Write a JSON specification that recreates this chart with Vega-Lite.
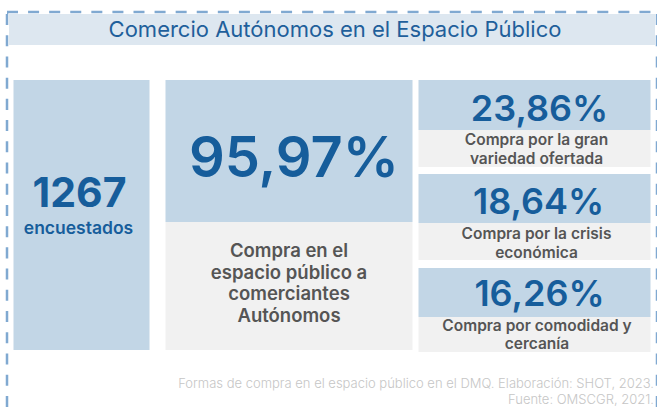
{
  "$schema": "https://vega.github.io/schema/vega-lite/v6.json",
  "background": "#ffffff",
  "padding": {"left": 5, "top": 10, "right": 0, "bottom": 0},
  "config": {
    "view": {"stroke": null},
    "text": {"font": "Inter", "clip": true},
    "locale": {"number": {"decimal": ",", "thousands": ".", "grouping": [3], "currency": ["", " €"]}}
  },
  "datasets": {
    "stats": [
      {"id": "total", "valor": 1267, "etiqueta": "encuestados"},
      {"id": "espacio", "valor": 0.9597, "etiqueta": ["Compra en el", "espacio público a", "comerciantes", "Autónomos"]},
      {"id": "variedad", "valor": 0.2386, "etiqueta": ["Compra por la gran", "variedad ofertada"]},
      {"id": "crisis", "valor": 0.1864, "etiqueta": ["Compra por la crisis", "económica"]},
      {"id": "comodidad", "valor": 0.1626, "etiqueta": ["Compra por comodidad y", "cercanía"]}
    ],
    "notas": [
      {"id": "titulo", "texto": "Comercio Autónomos en el Espacio Público"},
      {"id": "fuente", "texto": ["Formas de compra en el espacio público en el DMQ. Elaboración: SHOT, 2023.", "Fuente: OMSCGR, 2021."]}
    ]
  },
  "spacing": -2.5,
  "vconcat": [
    {
      "width": 648.5, "height": 0.01,
      "view": {"stroke": "#80a9d1", "strokeWidth": 2.5, "strokeDash": [11, 10.082]},
      "data": {"values": []},
      "mark": "point"
    },
    {
      "spacing": 0,
      "hconcat": [
        {
          "width": 0.01, "height": 398,
          "view": {"stroke": "#80a9d1", "strokeWidth": 2.5, "strokeDash": [11, 10.216]},
          "data": {"values": []},
          "mark": "point"
        },
        {
          "spacing": 35,
          "center": true,
          "vconcat": [
            {
              "width": 646, "height": 31,
              "view": {"fill": "#dde7f0", "stroke": null},
              "data": {"name": "notas"},
              "transform": [{"filter": "datum.id == 'titulo'"}],
              "mark": {"type": "text", "fontSize": 22, "fontWeight": 400, "color": "#1f5f9b", "dx": 3, "dy": 0},
              "encoding": {
                "x": {"field": "id", "type": "nominal", "axis": null},
                "y": {"field": "id", "type": "nominal", "axis": null},
                "text": {"field": "texto", "type": "nominal"}
              }
            },
            {
              "spacing": 25,
              "center": true,
              "vconcat": [
                {
                  "spacing": 16,
                  "hconcat": [
                    {
                      "width": 136, "height": 270,
                      "view": {"fill": "#c2d6e6", "stroke": null},
                      "data": {"name": "stats"},
                      "transform": [{"filter": "datum.id == 'total'"}],
                      "encoding": {
                        "x": {"field": "id", "type": "nominal", "axis": null},
                        "y": {"field": "id", "type": "nominal", "axis": null}
                      },
                      "layer": [
                        {
                          "mark": {"type": "text", "fontSize": 41, "fontWeight": 700, "color": "#165d9b", "dx": -2, "dy": -20},
                          "encoding": {"text": {"field": "valor", "type": "quantitative", "format": "d"}}
                        },
                        {
                          "mark": {"type": "text", "fontSize": 17.5, "fontWeight": 600, "color": "#165d9b", "dx": -3, "dy": 13.5},
                          "encoding": {"text": {"field": "etiqueta", "type": "nominal"}}
                        }
                      ]
                    },
                    {
                      "spacing": 6,
                      "hconcat": [
                        {
                          "spacing": 0,
                          "vconcat": [
                            {
                              "width": 247, "height": 142,
                              "view": {"fill": "#c2d6e6", "stroke": null},
                              "data": {"name": "stats"},
                              "transform": [{"filter": "datum.id == 'espacio'"}],
                              "mark": {"type": "text", "fontSize": 56, "fontWeight": 600, "color": "#165d9b", "dx": 5, "dy": 8.5},
                              "encoding": {
                                "x": {"field": "id", "type": "nominal", "axis": null},
                                "y": {"field": "id", "type": "nominal", "axis": null},
                                "text": {"field": "valor", "type": "quantitative", "format": ".2%"}
                              }
                            },
                            {
                              "width": 247, "height": 128,
                              "view": {"fill": "#f1f1f1", "stroke": null},
                              "data": {"name": "stats"},
                              "transform": [{"filter": "datum.id == 'espacio'"}],
                              "mark": {"type": "text", "fontSize": 18.5, "fontWeight": 600, "color": "#555555", "lineHeight": 21.7, "dy": -35},
                              "encoding": {
                                "x": {"field": "id", "type": "nominal", "axis": null},
                                "y": {"field": "id", "type": "nominal", "axis": null},
                                "text": {"field": "etiqueta", "type": "nominal"}
                              }
                            }
                          ]
                        },
                        {
                          "spacing": 7,
                          "vconcat": [
                            {
                              "spacing": 0,
                              "vconcat": [
                                {
                                  "width": 232, "height": 50,
                                  "view": {"fill": "#c2d6e6", "stroke": null},
                                  "data": {"name": "stats"},
                                  "transform": [{"filter": "datum.id == 'variedad'"}],
                                  "mark": {"type": "text", "fontSize": 36, "fontWeight": 600, "color": "#165d9b", "dx": 5, "dy": 5},
                                  "encoding": {
                                    "x": {"field": "id", "type": "nominal", "axis": null},
                                    "y": {"field": "id", "type": "nominal", "axis": null},
                                    "text": {"field": "valor", "type": "quantitative", "format": ".2%"}
                                  }
                                },
                                {
                                  "width": 232, "height": 37,
                                  "view": {"fill": "#f1f1f1", "stroke": null},
                                  "data": {"name": "stats"},
                                  "transform": [{"filter": "datum.id == 'variedad'"}],
                                  "mark": {"type": "text", "fontSize": 15.5, "fontWeight": 600, "color": "#555555", "lineHeight": 19, "dx": 2, "dy": -9},
                                  "encoding": {
                                    "x": {"field": "id", "type": "nominal", "axis": null},
                                    "y": {"field": "id", "type": "nominal", "axis": null},
                                    "text": {"field": "etiqueta", "type": "nominal"}
                                  }
                                }
                              ]
                            },
                            {
                              "spacing": 0,
                              "vconcat": [
                                {
                                  "width": 232, "height": 49,
                                  "view": {"fill": "#c2d6e6", "stroke": null},
                                  "data": {"name": "stats"},
                                  "transform": [{"filter": "datum.id == 'crisis'"}],
                                  "mark": {"type": "text", "fontSize": 36, "fontWeight": 600, "color": "#165d9b", "dx": 4, "dy": 4},
                                  "encoding": {
                                    "x": {"field": "id", "type": "nominal", "axis": null},
                                    "y": {"field": "id", "type": "nominal", "axis": null},
                                    "text": {"field": "valor", "type": "quantitative", "format": ".2%"}
                                  }
                                },
                                {
                                  "width": 232, "height": 37,
                                  "view": {"fill": "#f1f1f1", "stroke": null},
                                  "data": {"name": "stats"},
                                  "transform": [{"filter": "datum.id == 'crisis'"}],
                                  "mark": {"type": "text", "fontSize": 15.5, "fontWeight": 600, "color": "#555555", "lineHeight": 19, "dx": 2, "dy": -8},
                                  "encoding": {
                                    "x": {"field": "id", "type": "nominal", "axis": null},
                                    "y": {"field": "id", "type": "nominal", "axis": null},
                                    "text": {"field": "etiqueta", "type": "nominal"}
                                  }
                                }
                              ]
                            },
                            {
                              "spacing": 0,
                              "vconcat": [
                                {
                                  "width": 232, "height": 49,
                                  "view": {"fill": "#c2d6e6", "stroke": null},
                                  "data": {"name": "stats"},
                                  "transform": [{"filter": "datum.id == 'comodidad'"}],
                                  "mark": {"type": "text", "fontSize": 36, "fontWeight": 600, "color": "#165d9b", "dx": 5, "dy": 2.5},
                                  "encoding": {
                                    "x": {"field": "id", "type": "nominal", "axis": null},
                                    "y": {"field": "id", "type": "nominal", "axis": null},
                                    "text": {"field": "valor", "type": "quantitative", "format": ".2%"}
                                  }
                                },
                                {
                                  "width": 232, "height": 35,
                                  "view": {"fill": "#f1f1f1", "stroke": null},
                                  "data": {"name": "stats"},
                                  "transform": [{"filter": "datum.id == 'comodidad'"}],
                                  "mark": {"type": "text", "fontSize": 15.5, "fontWeight": 600, "color": "#555555", "lineHeight": 18, "dx": 2.5, "dy": -9},
                                  "encoding": {
                                    "x": {"field": "id", "type": "nominal", "axis": null},
                                    "y": {"field": "id", "type": "nominal", "axis": null},
                                    "text": {"field": "etiqueta", "type": "nominal"}
                                  }
                                }
                              ]
                            }
                          ]
                        }
                      ]
                    }
                  ]
                },
                {
                  "width": 646, "height": 32,
                  "data": {"name": "notas"},
                  "transform": [{"filter": "datum.id == 'fuente'"}],
                  "mark": {"type": "text", "align": "right", "fontSize": 13, "fontWeight": 300, "color": "#c6c6c6", "lineHeight": 16, "dx": -1, "dy": -9},
                  "encoding": {
                    "x": {"field": "id", "type": "nominal", "axis": null, "scale": {"type": "point", "padding": 0, "align": 1}},
                    "y": {"field": "id", "type": "nominal", "axis": null},
                    "text": {"field": "texto", "type": "nominal"}
                  }
                }
              ]
            }
          ]
        },
        {
          "width": 0.01, "height": 398,
          "view": {"stroke": "#80a9d1", "strokeWidth": 2.5, "strokeDash": [11, 10.216]},
          "data": {"values": []},
          "mark": "point"
        }
      ]
    }
  ]
}
